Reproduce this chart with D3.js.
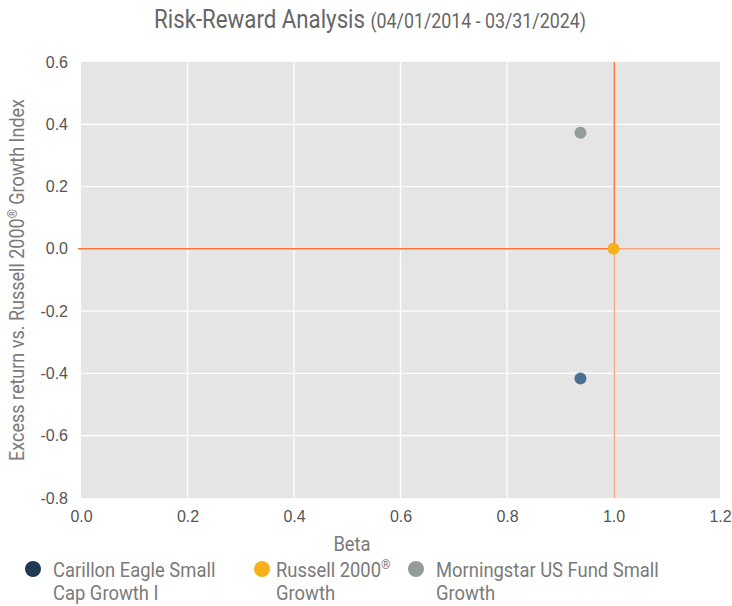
<!DOCTYPE html>
<html>
<head>
<meta charset="utf-8">
<script src="https://cdn.jsdelivr.net/npm/d3@7"></script>
<style>
  body { margin: 0; background: #fff; }
  svg { display: block; }
</style>
</head>
<body>
<svg id="chart" width="732" height="606"></svg>
<script>
// series data
const seriesNames = ["Carillon Eagle Small Cap Growth I", "Russell 2000® Growth", "Morningstar US Fund Small Growth"];
const betaValues = [0.938, 1.0, 0.938];
const excessValues = [-0.416, 0.0, 0.373];
const pointColors = ["#4b7190", "#f5b21c", "#939c99"];
const legendColors = ["#1e3b53", "#f6b11a", "#939c99"];

// axes
const xTicks = [0, 0.2, 0.4, 0.6, 0.8, 1.0, 1.2];
const yTicks = [-0.8, -0.6, -0.4, -0.2, 0, 0.2, 0.4, 0.6];

const svg = d3.select("#chart");

const x = d3.scaleLinear().domain([0, 1.2]).range([81, 720]);
const y = d3.scaleLinear().domain([-0.8, 0.6]).range([498, 62]);

// title
const title = svg.append("text")
  .attr("transform", "translate(370,28) scale(0.89,1)")
  .attr("text-anchor", "middle")
  .attr("font-family", "Roboto")
  .attr("fill", "#666");
title.append("tspan").attr("font-size", 25).text("Risk-Reward Analysis ");
title.append("tspan").attr("font-size", 20).text("(04/01/2014 - 03/31/2024)");

// plot background
svg.append("rect")
  .attr("x", x(0)).attr("y", y(0.6))
  .attr("width", x(1.2) - x(0)).attr("height", y(-0.8) - y(0.6))
  .attr("fill", "#e5e5e5");

// gridlines
svg.append("g").selectAll("line").data(xTicks.slice(1, -1)).join("line")
  .attr("x1", d => x(d)).attr("x2", d => x(d))
  .attr("y1", y(0.6)).attr("y2", y(-0.8))
  .attr("stroke", "#fff").attr("stroke-width", 1.3);
svg.append("g").selectAll("line").data(yTicks.slice(1, -1)).join("line")
  .attr("x1", x(0)).attr("x2", x(1.2))
  .attr("y1", d => y(d)).attr("y2", d => y(d))
  .attr("stroke", "#fff").attr("stroke-width", 1.3);

// axes labels via d3 axes
const xAxis = svg.append("g")
  .attr("transform", `translate(0,${y(-0.8)})`)
  .call(d3.axisBottom(x).tickValues(xTicks).tickFormat(d3.format(".1f")).tickSize(0).tickPadding(13));
const yAxis = svg.append("g")
  .attr("transform", `translate(${x(0)},0)`)
  .call(d3.axisLeft(y).tickValues(yTicks).tickFormat(d3.format(".1f")).tickSize(0).tickPadding(13));
[xAxis, yAxis].forEach(a => {
  a.select(".domain").remove();
  a.selectAll("text")
    .attr("font-family", "Liberation Sans, Arial")
    .attr("font-size", 16)
    .attr("fill", "#555");
});
yAxis.selectAll("text").text(d => d3.format(".1f")(d).replace("−", "-"));

// axis titles
svg.append("text")
  .attr("transform", "translate(352,551) scale(0.92,1)")
  .attr("text-anchor", "middle")
  .attr("font-family", "Roboto").attr("font-size", 20)
  .attr("fill", "#7a7a7a").text("Beta");

const yTitle = svg.append("text")
  .attr("transform", "translate(24,280) rotate(-90) scale(0.9,1)")
  .attr("text-anchor", "middle")
  .attr("font-family", "Roboto").attr("font-size", 20)
  .attr("fill", "#7a7a7a");
yTitle.append("tspan").text("Excess return vs. Russell 2000");
yTitle.append("tspan").attr("font-size", 13).attr("dy", -7).text("®");
yTitle.append("tspan").attr("dy", 7).text(" Growth Index");

// crosshair at the benchmark
const bx = x(betaValues[1]) + 0.75, by = y(excessValues[1]);
const cross = svg.append("g").attr("stroke-width", 1.5);
cross.append("line").attr("x1", x(0) - 3).attr("x2", bx).attr("y1", by).attr("y2", by).attr("stroke", "#f4773a");
cross.append("line").attr("x1", bx).attr("x2", x(1.2)).attr("y1", by).attr("y2", by).attr("stroke", "#f5a67f");
cross.append("line").attr("x1", bx).attr("x2", bx).attr("y1", y(0.6)).attr("y2", by).attr("stroke", "#f4773a");
cross.append("line").attr("x1", bx).attr("x2", bx).attr("y1", by).attr("y2", y(-0.8)).attr("stroke", "#f5a67f");

// points
svg.append("g").selectAll("circle").data(seriesNames).join("circle")
  .attr("cx", (d, i) => x(betaValues[i]))
  .attr("cy", (d, i) => y(excessValues[i]))
  .attr("r", 6)
  .attr("fill", (d, i) => pointColors[i]);

// legend
const legendX = [33, 262, 416];
const legendLines = [["Carillon Eagle Small", "Cap Growth I"], ["Russell 2000®", "Growth"], ["Morningstar US Fund Small", "Growth"]];
const legend = svg.append("g");
legendLines.forEach((lines, i) => {
  const g = legend.append("g").attr("transform", `translate(${legendX[i]},0)`);
  g.append("circle").attr("cx", 0).attr("cy", 569).attr("r", 8).attr("fill", legendColors[i]);
  const tx = i === 1 ? 14 : 20;
  lines.forEach((ln, j) => {
    const t = g.append("text")
      .attr("transform", `translate(${tx},${577 + j * 23}) scale(0.92,1)`)
      .attr("font-family", "Roboto").attr("font-size", 20)
      .attr("fill", "#7a7a7a");
    if (ln.endsWith("®")) {
      t.append("tspan").text(ln.slice(0, -1));
      t.append("tspan").attr("font-size", 13).attr("dy", -8).text("®");
    } else {
      t.text(ln);
    }
  });
});
</script>
</body>
</html>
